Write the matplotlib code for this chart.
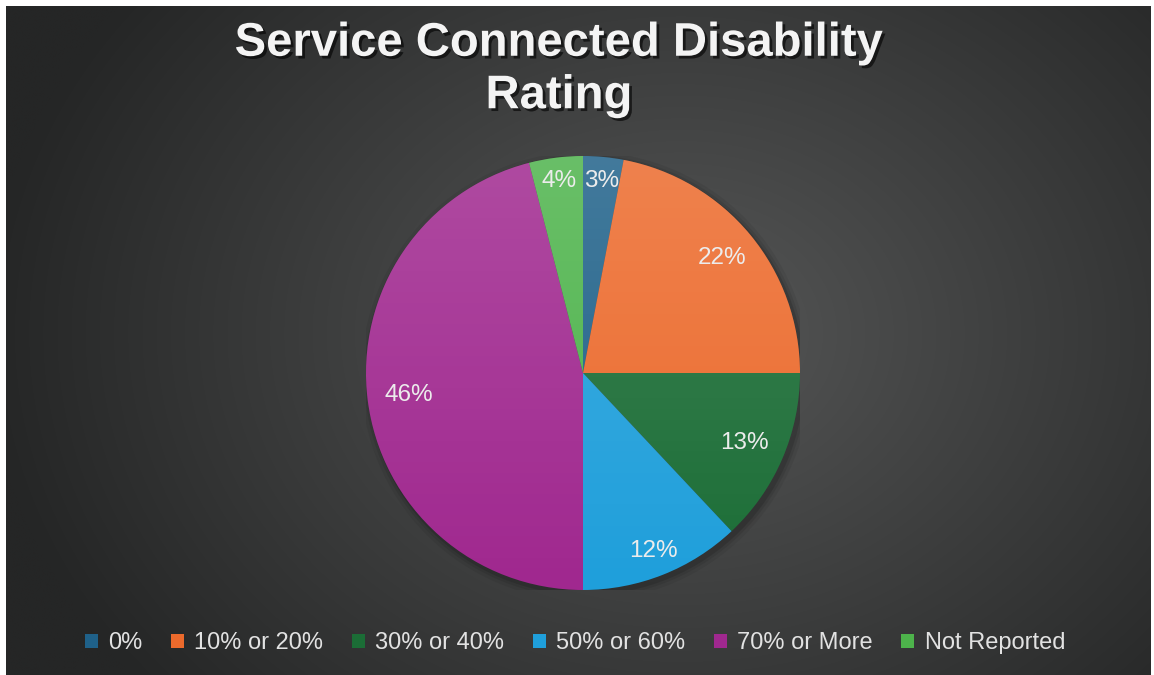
import matplotlib.pyplot as plt
import matplotlib.patheffects as pe
from matplotlib.patches import Patch, Circle
import numpy as np

# data
categories = ["0%", "10% or 20%", "30% or 40%", "50% or 60%", "70% or More", "Not Reported"]
shares = [3, 22, 13, 12, 46, 4]
colors = ["#1f6189", "#ec6a2c", "#1b6d36", "#1f9fdb", "#a0288f", "#4db34b"]
title = "Service Connected Disability\nRating"

W, H = 1154, 675
plt.rcParams['font.family'] = ['Liberation Sans', 'DejaVu Sans']

fig = plt.figure(figsize=(W / 100, H / 100), dpi=100)
fig.patch.set_facecolor("white")

# radial background
bg = fig.add_axes([6 / W, 0, (W - 9) / W, (H - 6) / H])
yy, xx = np.mgrid[0:H, 0:W].astype(float)
d = np.sqrt(((xx - 680) / 700) ** 2 + ((yy - 330) / 560) ** 2)
d = np.clip(d, 0, 1)
c0, c1 = np.array([0x56, 0x57, 0x57]) / 255, np.array([0x25, 0x26, 0x26]) / 255
img = c0[None, None, :] * (1 - d[..., None]) + c1[None, None, :] * d[..., None]
bg.imshow(img, aspect='auto', extent=[0, 1, 0, 1])
bg.set_axis_off()

# pie axes
cx, cy, R = 583, 373, 217
ax = fig.add_axes([(cx - R) / W, (H - cy - R) / H, 2 * R / W, 2 * R / H])
ax.set_xlim(-1, 1)
ax.set_ylim(-1, 1)
ax.set_axis_off()

# soft shadow
for k, a in zip([1.035, 1.02, 1.008], [0.06, 0.08, 0.12]):
    ax.add_patch(Circle((0.012, -0.015), k, color='black', alpha=a, lw=0, zorder=0))

wedges, _ = ax.pie(shares, colors=colors, startangle=90, counterclock=False,
                   radius=1, wedgeprops=dict(linewidth=0))
for w in wedges:
    w.set_zorder(1)

# light vertical sheen on the wedges
g = np.linspace(0.16, 0.0, 256)[:, None] * np.ones((1, 4))
sheen = np.zeros((256, 4, 4))
sheen[..., :3] = 1
sheen[..., 3] = g
im = ax.imshow(sheen, extent=[-1, 1, -1, 1], aspect='auto', zorder=2)
clip = Circle((0, 0), 1, transform=ax.transData)
im.set_clip_path(clip)
ax.set_xlim(-1, 1)
ax.set_ylim(-1, 1)

label_dist = [0.89, 0.83, 0.81, 0.88, 0.81, 0.89]
cum = 0
for v, r in zip(shares, label_dist):
    ang = np.deg2rad(90 - 360 * (cum + v / 2) / sum(shares))
    ax.text(r * np.cos(ang), r * np.sin(ang), f"{v}%", ha='center', va='center',
            fontsize=17.5, color='#ececec', zorder=3)
    cum += v

# title
fig.text(559 / W, 1 - 70 / H, title, ha='center', va='center', fontsize=34,
         fontweight='bold', color='#f4f4f4', linespacing=1.25,
         path_effects=[pe.withSimplePatchShadow(offset=(2, -2), shadow_rgbFace='black', alpha=0.6)])

# legend
handles = [Patch(facecolor=c, edgecolor='none') for c in colors]
leg = fig.legend(handles, categories, loc='center', bbox_to_anchor=(575 / W, 1 - 643 / H),
                 ncol=6, frameon=False, fontsize=17, labelcolor='#e2e2e2',
                 handlelength=0.55, handleheight=0.55, handletextpad=0.45,
                 columnspacing=1.2)

fig.savefig("out.png", dpi=100, facecolor=fig.get_facecolor())
